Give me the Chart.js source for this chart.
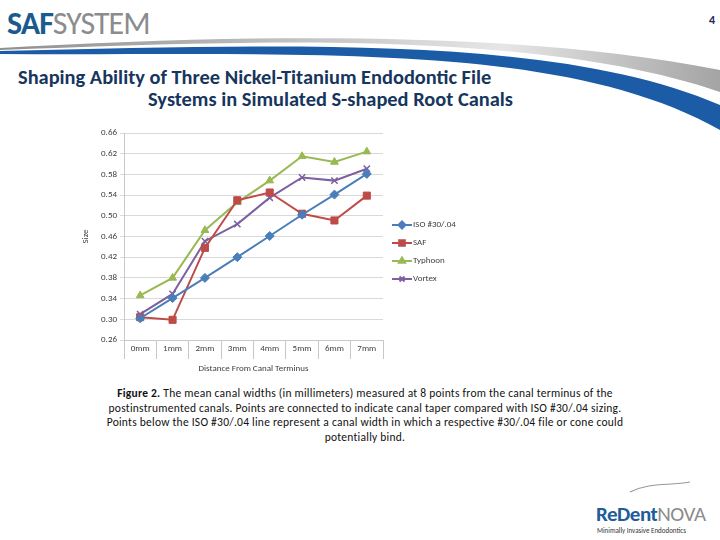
<!DOCTYPE html>
<html>
<head>
<meta charset="utf-8">
<script src="https://cdn.jsdelivr.net/npm/chart.js@4.4.1/dist/chart.umd.min.js"></script>
<style>
  body { margin: 0; background: #fff; }
  #page { position: relative; width: 720px; height: 540px; overflow: hidden; background: #fff; font-family: Carlito, "Liberation Sans", "Open Sans", sans-serif; }
  #swoosh { position: absolute; left: 0; top: 0; }
  .logo { position: absolute; left: 7px; top: 4px; font-size: 32px; color: #1b5a8c; letter-spacing: -1px; }
  .logo b { font-weight: bold; }
  .logo span { color: #8a8c8e; font-weight: normal; }
  .pagenum { position: absolute; left: 709px; top: 13px; font-size: 12px; font-weight: bold; color: #1f2a5a; }
  .title { position: absolute; color: #17365d; font-weight: bold; font-size: 20.4px; white-space: nowrap; }
  #caption { position: absolute; left: 40px; top: 386px; width: 650px; text-align: center; font-size: 11.5px; letter-spacing: 0.25px; line-height: 14.5px; color: #111; white-space: nowrap; }
  #chartBox { position: absolute; left: 80px; top: 120px; width: 390px; height: 262px; }
  .redent { position: absolute; left: 596px; top: 501px; font-size: 21px; color: #1e5c9a; font-weight: bold; letter-spacing: -0.5px; }
  .redent span { color: #8a8c8e; font-weight: normal; }
  .tag { position: absolute; left: 597px; top: 526px; font-size: 7px; color: #333; }
</style>
</head>
<body>
<div id="page">
  <svg id="swoosh" width="720" height="540">
    <defs>
      <linearGradient id="gray" x1="0" y1="0" x2="1" y2="0">
        <stop offset="0" stop-color="#8f8f8f"/>
        <stop offset="0.7" stop-color="#e6e6e6"/>
        <stop offset="1" stop-color="#a4a4a4"/>
      </linearGradient>
    </defs>
    <path d="M 0 48 C 250 34, 520 30, 720 70 L 720 92 C 540 30, 250 40, 0 50 Z" fill="url(#gray)"/>
    <path d="M 0 51 C 300 44, 560 36, 720 105 L 720 130 C 560 40, 300 56, 0 54 Z" fill="#1c5ca6"/>
    <path d="M 630 492 C 650 482, 668 486, 690 482" stroke="#999" stroke-width="1.2" fill="none"/>
  </svg>
  <div class="logo"><b>SAF</b><span>SYSTEM</span></div>
  <div class="pagenum">4</div>
  <div class="title" style="left:18px; top:65px;">Shaping Ability of Three Nickel-Titanium Endodontic File</div>
  <div class="title" style="left:148px; top:87px;">Systems in Simulated S-shaped Root Canals</div>
  <div id="chartBox"><canvas id="sizeChart" width="390" height="262"></canvas></div>
  <div id="caption"><b>Figure 2.</b> The mean canal widths (in millimeters) measured at 8 points from the canal terminus of the<br>postinstrumented canals. Points are connected to indicate canal taper compared with ISO #30/.04 sizing.<br>Points below the ISO #30/.04 line represent a canal width in which a respective #30/.04 file or cone could<br>potentially bind.</div>
  <div class="redent">ReDent<span>NOVA</span></div>
  <div class="tag">Minimally Invasive Endodontics</div>
</div>
<script>
var distances = ["0mm", "1mm", "2mm", "3mm", "4mm", "5mm", "6mm", "7mm"];
var isoValues = [0.302, 0.341, 0.380, 0.420, 0.461, 0.502, 0.541, 0.581];
var safValues = [0.304, 0.299, 0.438, 0.530, 0.545, 0.504, 0.491, 0.539];
var typhoonValues = [0.346, 0.380, 0.472, 0.526, 0.568, 0.615, 0.604, 0.624];
var vortexValues = [0.310, 0.349, 0.451, 0.484, 0.535, 0.574, 0.568, 0.591];
var seriesNames = ["ISO #30/.04", "SAF", "Typhoon", "Vortex"];
var seriesColors = ["#4a7ebb", "#be4b48", "#98b954", "#7d60a0"];
var markerStyles = ["rectRot", "rect", "triangle", "crossRot"];
var yTicks = { min: 0.26, max: 0.66, step: 0.04 };

// excel style legend: short line with the marker in the middle
var sideLegend = {
    id: 'sideLegend',
    afterDraw: function(chart) {
        var ctx = chart.ctx;
        var x0 = chart.chartArea.right + 9;
        var y0 = 105;
        ctx.save();
        ctx.font = '9px Carlito, "Liberation Sans", sans-serif';
        ctx.textBaseline = 'middle';
        chart.data.datasets.forEach(function(ds, i) {
            var y = y0 + i * 18;
            ctx.strokeStyle = ds.borderColor;
            ctx.lineWidth = 2;
            ctx.beginPath();
            ctx.moveTo(x0, y);
            ctx.lineTo(x0 + 20, y);
            ctx.stroke();
            ctx.fillStyle = ds.backgroundColor;
            Chart.helpers.drawPoint(ctx, {
                pointStyle: ds.pointStyle,
                radius: ds.pointRadius - 1,
                rotation: 0,
                borderWidth: ds.pointStyle === 'crossRot' ? 1.5 : 1
            }, x0 + 10, y);
            ctx.fillStyle = '#404040';
            ctx.fillText(ds.label, x0 + 21, y);
        });
        ctx.restore();
    }
};

function makeSet(i, values) {
    return {
        label: seriesNames[i],
        data: values,
        borderColor: seriesColors[i],
        backgroundColor: seriesColors[i],
        borderWidth: 2,
        pointStyle: markerStyles[i],
        pointRadius: markerStyles[i] === 'rect' ? 5 : 4.5,
        pointBorderWidth: markerStyles[i] === 'crossRot' ? 1.5 : 1,
        tension: 0
    };
}

var ctx = document.getElementById('sizeChart');
var sizeChart = new Chart(ctx, {
    type: 'line',
    data: {
        labels: distances,
        datasets: [
            makeSet(0, isoValues),
            makeSet(1, safValues),
            makeSet(2, typhoonValues),
            makeSet(3, vortexValues)
        ]
    },
    options: {
        responsive: false,
        animation: false,
        events: [],
        layout: { padding: { top: 13, right: 87, left: 0, bottom: 0 } },
        plugins: {
            legend: { display: false },
            tooltip: { enabled: false }
        },
        scales: {
            x: {
                offset: true,
                grid: {
                    offset: true,
                    drawOnChartArea: false,
                    drawTicks: true,
                    tickLength: 19,
                    color: '#c8c8c8'
                },
                border: { color: '#c8c8c8' },
                ticks: {
                    padding: -16,
                    maxRotation: 0,
                    color: '#404040',
                    font: { size: 9, family: 'Carlito, "Liberation Sans", sans-serif' }
                },
                title: {
                    display: true,
                    text: 'Distance From Canal Terminus',
                    color: '#404040',
                    padding: { top: 0, bottom: 8 },
                    font: { size: 9, family: 'Carlito, "Liberation Sans", sans-serif' }
                },
                afterFit: function(scale) { scale.height = 42; }
            },
            y: {
                min: yTicks.min,
                max: yTicks.max,
                grid: { color: '#d9d9d9', tickLength: 4 },
                border: { color: '#c8c8c8' },
                ticks: {
                    stepSize: yTicks.step,
                    color: '#404040',
                    font: { size: 9, family: 'Carlito, "Liberation Sans", sans-serif' },
                    callback: function(v) { return v.toFixed(2); }
                },
                title: {
                    display: true,
                    text: 'Size',
                    color: '#404040',
                    padding: { top: 0, bottom: 2 },
                    font: { size: 9, family: 'Carlito, "Liberation Sans", sans-serif' }
                },
                afterFit: function(scale) { scale.width = 44; }
            }
        }
    },
    plugins: [sideLegend]
});
</script>
</body>
</html>
